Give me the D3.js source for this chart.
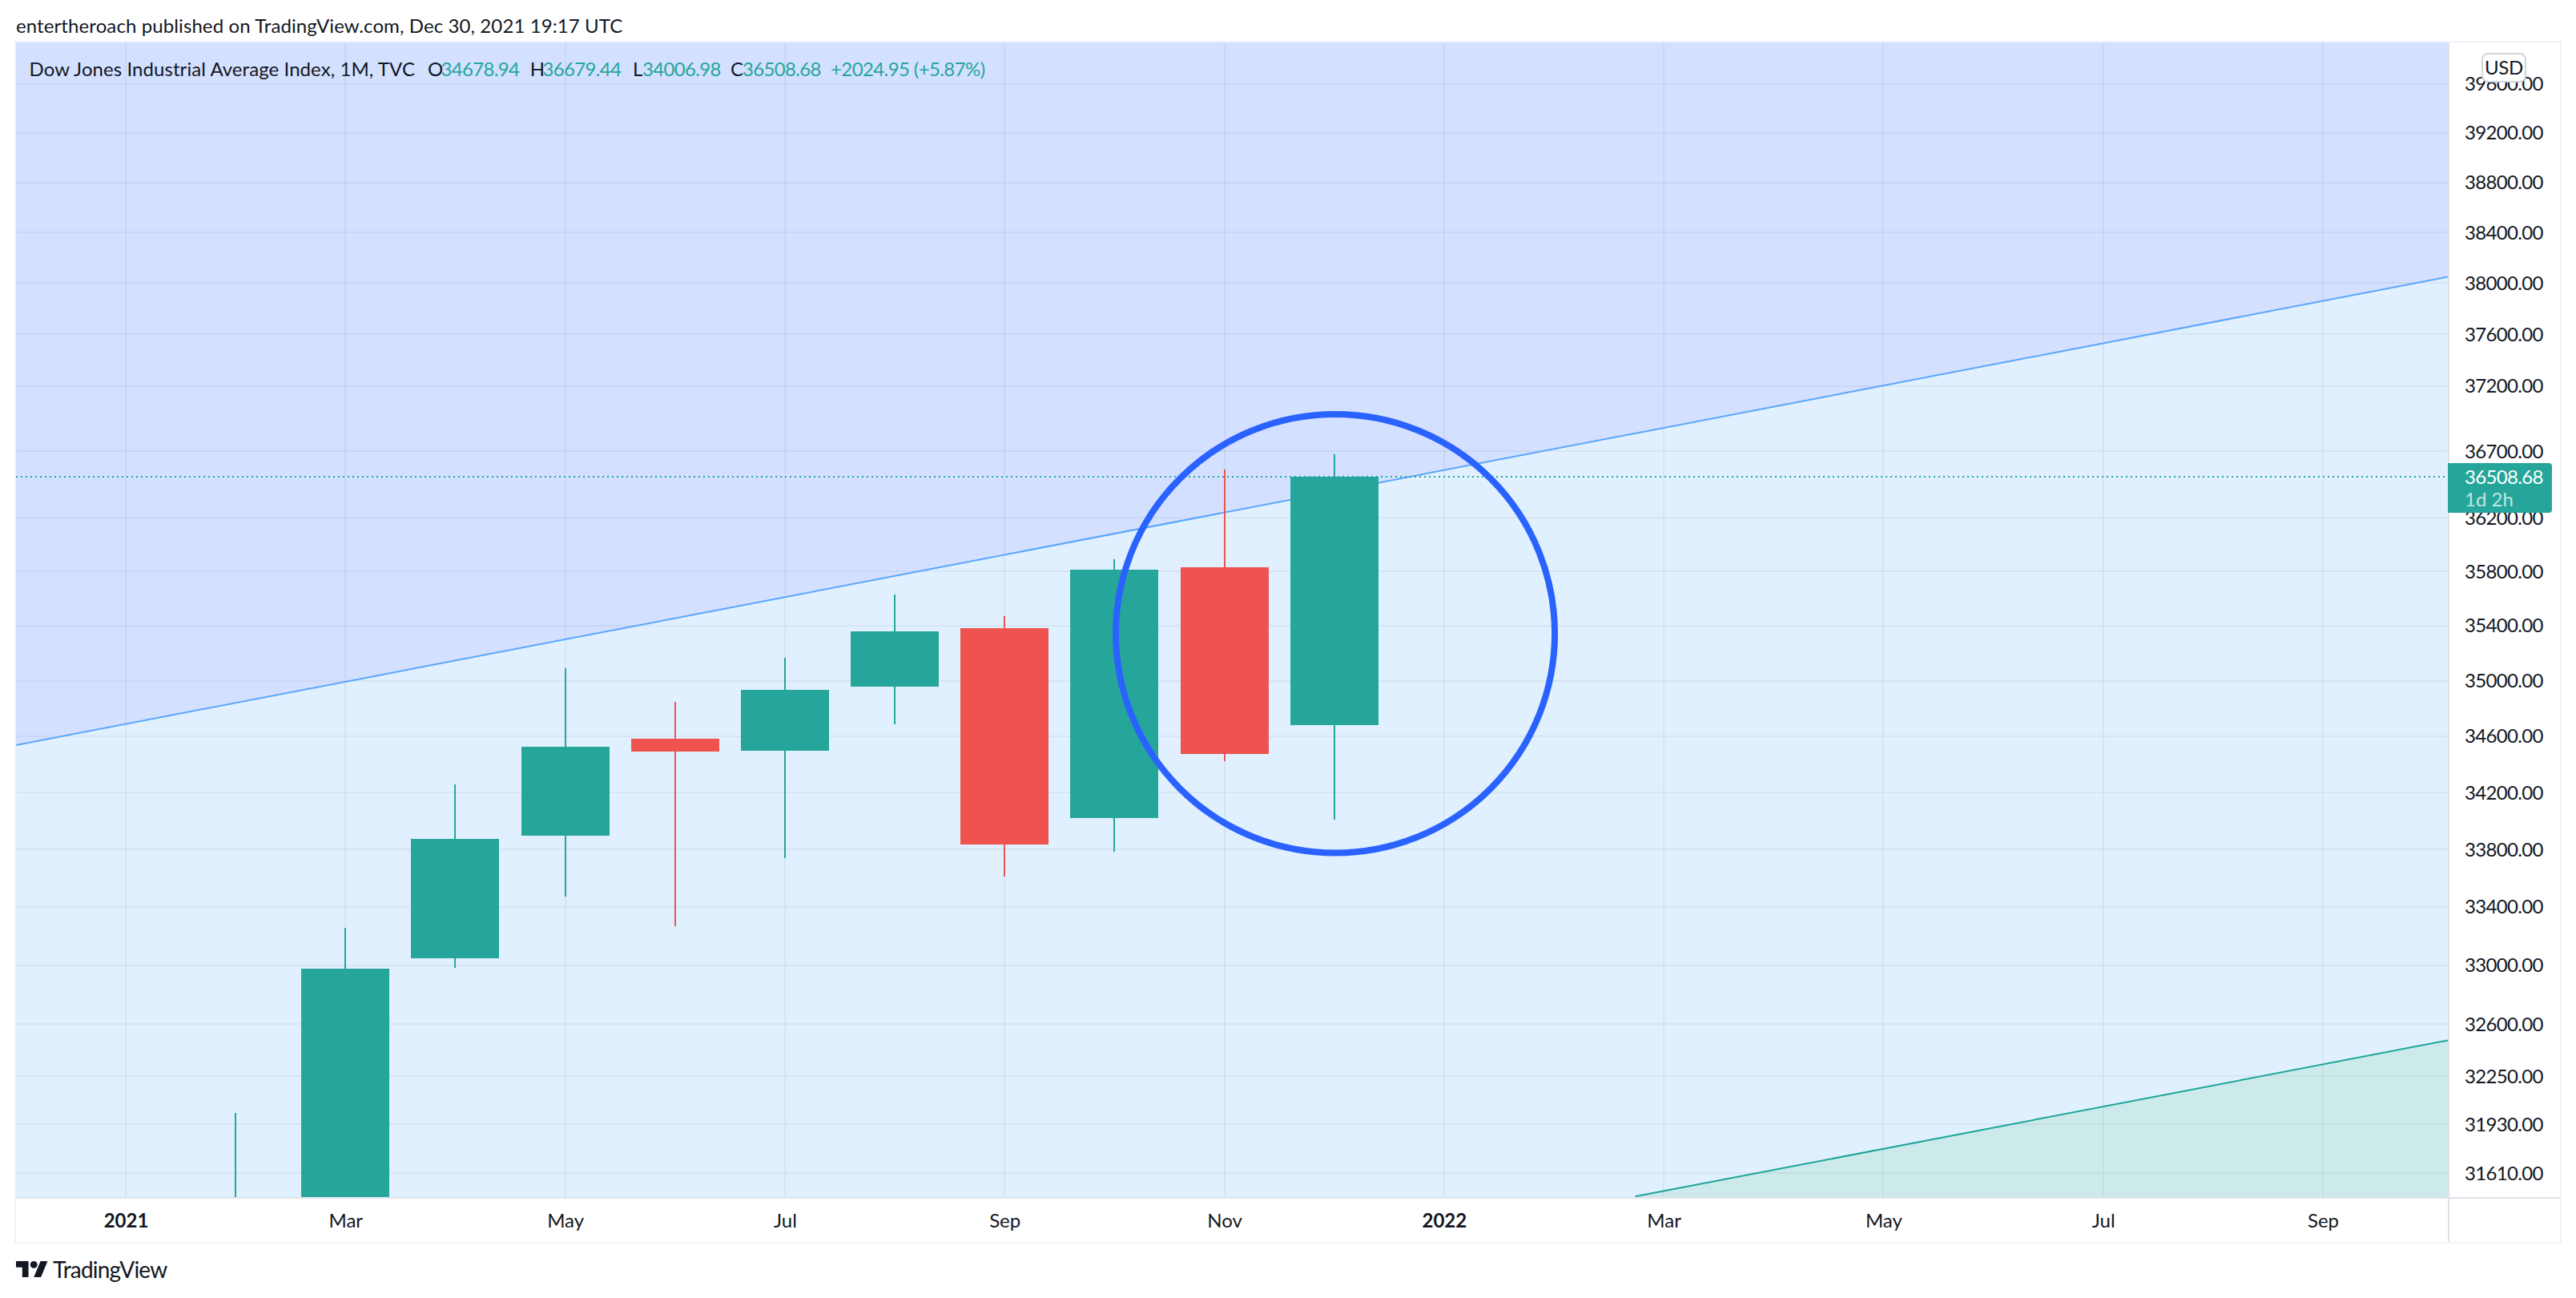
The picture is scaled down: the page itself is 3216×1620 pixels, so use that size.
<!DOCTYPE html>
<html><head><meta charset="utf-8">
<style>html,body{margin:0;padding:0;background:#fff}svg{display:block}text{font-family:Lato,"Noto Sans",sans-serif;fill:#131722}</style>
<script src="https://cdnjs.cloudflare.com/ajax/libs/d3/7.8.5/d3.min.js"></script>
</head><body><div id="c"></div>
<script>
// --- data ---
const months = ['Feb','Mar','Apr','May','Jun','Jul','Aug','Sep','Oct','Nov','Dec'];
const monthIndex = [1,2,3,4,5,6,7,8,9,10,11];
const opens  = [30054,31066,33048,33897,34583,34498,34958,35384,34021,35832,34678.94];
const highs  = [32008,33257,34259,35092,34848,35167,35631,35472,35892,36564,36679.44];
const lows   = [29856,30547,32983,33473,33268,33740,34687,33612,33785,34424,34006.98];
const closes = [30932,32977,33875,34526,34492,34935,35360,33835,35814,34475,36508.68];
const priceTicks = [39600,39200,38800,38400,38000,37600,37200,36700,36200,35800,35400,35000,34600,34200,33800,33400,33000,32600,32250,31930,31610];
const timeTickIndex = [0,2,4,6,8,10,12,14,16,18,20];
const timeTickLabels = ['2021','Mar','May','Jul','Sep','Nov','2022','Mar','May','Jul','Sep'];
const boldLabels = ['2021','2022'];
const upperLineIdx = [-1,21.14], upperLineVal = [34532,38045];
const lowerLineIdx = [13.74,21.14], lowerLineVal = [31454,32487];
const ringIdx = [9.012,13.008], ringVal = [33775,36983];
const lastClose = 36508.68;

// --- layout ---
const W=3216,H=1620,L=20,R=3056,T=53,B=1495,OUT=3196,OUTB=1550;
const GREEN='#26a69a',RED='#ef5350',INK='#131722';
const NUMSP='-0.68px';
const x=d3.scaleLinear().domain([0,20]).range([157,2900]);
const y=d3.scaleLog().domain([31610,39600]).range([1464.2,104.5]);
const yBot=y.invert(B),yTop=y.invert(T);
const ry=v=>Math.round(y(v));
const svg=d3.select('#c').append('svg').attr('width',W).attr('height',H);
svg.append('defs').append('clipPath').attr('id','plot').append('rect').attr('x',L).attr('y',T).attr('width',R-L).attr('height',B-T);
const plot=svg.append('g').attr('clip-path','url(#plot)');

// fills
const up=upperLineIdx.map((d,i)=>({i:d,v:upperLineVal[i]}));
const lo=lowerLineIdx.map((d,i)=>({i:d,v:lowerLineVal[i]}));
plot.append('rect').attr('x',L).attr('y',T).attr('width',R-L).attr('height',B-T).attr('fill','#e0f0fe');
const area=d3.area().x(d=>x(d.i)).y1(d=>y(d.v)-0.7);
plot.append('path').datum(up).attr('fill','#d3e0ff').attr('d',area.y0(y(yTop)));
plot.append('path').datum(lo).attr('fill','#cceae9').attr('d',area.y0(y(yBot)));

// grid
const GRID='rgba(42,46,57,0.05)';
plot.selectAll('.gh').data(priceTicks).join('rect').attr('x',L).attr('width',R-L).attr('y',d=>ry(d)-1).attr('height',2).attr('fill',GRID);
plot.selectAll('.gv').data(timeTickIndex).join('rect').attr('y',T).attr('height',B-T).attr('x',d=>Math.round(x(d))-1).attr('width',2).attr('fill',GRID);

// trend lines
const line=d3.line().x(d=>x(d.i)).y(d=>y(d.v)-0.7);
plot.append('path').datum(up).attr('fill','none').attr('stroke','#5aa6fb').attr('stroke-width',2).attr('d',line);
plot.append('path').datum(lo).attr('fill','none').attr('stroke','#1ea49c').attr('stroke-width',2).attr('d',line);

// last price line
plot.append('line').attr('x1',L).attr('x2',R).attr('y1',ry(lastClose)).attr('y2',ry(lastClose)).attr('stroke',GREEN).attr('stroke-width',2).attr('stroke-dasharray','2 4');

// candles
const rows=months.map((m,i)=>({m,i:monthIndex[i],o:opens[i],h:highs[i],l:lows[i],c:closes[i]}));
const col=d=>d.c>=d.o?GREEN:RED;
plot.selectAll('.w').data(rows).join('rect').attr('x',d=>Math.round(x(d.i))-1).attr('width',2).attr('y',d=>ry(d.h)).attr('height',d=>ry(d.l)-ry(d.h)).attr('fill',col);
plot.selectAll('.b').data(rows).join('rect').attr('x',d=>Math.round(x(d.i))-55).attr('width',110).attr('y',d=>ry(Math.max(d.o,d.c))).attr('height',d=>ry(Math.min(d.o,d.c))-ry(Math.max(d.o,d.c))).attr('fill',col);

// ring annotation
plot.append('ellipse').attr('cx',(x(ringIdx[0])+x(ringIdx[1]))/2).attr('cy',(y(ringVal[0])+y(ringVal[1]))/2)
  .attr('rx',(x(ringIdx[1])-x(ringIdx[0]))/2).attr('ry',(y(ringVal[0])-y(ringVal[1]))/2)
  .attr('fill','none').attr('stroke','#2962ff').attr('stroke-width',8);

// frame
const BORD='#f0f3fa',AX='#e0e3eb';
svg.append('rect').attr('x',L-2).attr('y',T-2).attr('width',OUT-L+4).attr('height',2).attr('fill',BORD);
svg.append('rect').attr('x',L-2).attr('y',T-2).attr('width',2).attr('height',OUTB-T+4).attr('fill',BORD);
svg.append('rect').attr('x',OUT).attr('y',T-2).attr('width',2).attr('height',OUTB-T+4).attr('fill',BORD);
svg.append('rect').attr('x',L-2).attr('y',OUTB).attr('width',OUT-L+4).attr('height',2).attr('fill',BORD);
svg.append('rect').attr('x',L).attr('y',B-1).attr('width',OUT-L).attr('height',2).attr('fill',AX);
svg.append('rect').attr('x',R).attr('y',T).attr('width',2).attr('height',OUTB-T).attr('fill',AX);

// axes
const FS=24;
const ya=svg.append('g').attr('transform','translate(3077,0.3)').call(d3.axisRight(y).tickValues(priceTicks).tickFormat(d3.format('.2f')).tickSize(0).tickPadding(0));
ya.select('.domain').remove();
ya.selectAll('text').attr('font-size',FS).attr('fill',INK).style('font-family','Lato').style('letter-spacing',NUMSP);
const xa=svg.append('g').attr('transform',`translate(0,${B})`).call(d3.axisBottom(x).tickValues(timeTickIndex).tickFormat((d,i)=>timeTickLabels[i]).tickSize(0).tickPadding(20));
xa.select('.domain').remove();
xa.selectAll('text').attr('font-size',FS).attr('fill',INK).style('font-family','Lato').attr('font-weight',(d,i)=>boldLabels.includes(timeTickLabels[i])?700:400);

// USD badge
svg.append('rect').attr('x',3099).attr('y',67).attr('width',54).attr('height',35).attr('rx',7).attr('fill','#fff').attr('stroke','#d1d4dc').attr('stroke-width',2);
svg.append('text').attr('x',3126).attr('y',85).attr('text-anchor','middle').attr('dy','.35em').attr('font-size',FS).style('letter-spacing','-0.3px').text('USD');

// last price tag
svg.append('path').attr('d','M3056 578H3182a4 4 0 0 1 4 4V636a4 4 0 0 1 -4 4H3056Z').attr('fill',GREEN);
svg.append('text').attr('x',3077).attr('y',596).attr('dy','.35em').attr('font-size',FS).style('fill','#fff').style('letter-spacing',NUMSP).text(d3.format('.2f')(lastClose));
svg.append('text').attr('x',3077).attr('y',624).attr('dy','.35em').attr('font-size',FS).style('fill','#bfe6e2').text('1d 2h');

// header
svg.append('text').attr('x',20).attr('y',33).attr('dy','.35em').attr('font-size',FS).style('letter-spacing','0.1px').text('entertheroach published on TradingView.com, Dec 30, 2021 19:17 UTC');
const legend=[['Dow Jones Industrial Average Index, 1M, TVC',36.5,INK,'0.07px'],['O',534,INK,'0'],['34678.94',550.6,GREEN,NUMSP],['H',661.7,INK,'0'],['36679.44',677.5,GREEN,NUMSP],['L',790,INK,'0'],['34006.98',802,GREEN,NUMSP],['C',912,INK,'0'],['36508.68',927,GREEN,NUMSP],['+2024.95 (+5.87%)',1037,GREEN,'-0.6px']];
svg.selectAll('.lg').data(legend).join('text').attr('x',d=>d[1]).attr('y',87).attr('dy','.35em').attr('font-size',FS).style('fill',d=>d[2]).style('letter-spacing',d=>d[3]).text(d=>d[0]);

// footer logo
svg.append('g').attr('transform','translate(20,1569.5) scale(1.111)').attr('fill',INK).call(g=>{
  g.append('path').attr('d','M14 22H7V11H0V4h14v18zM28 22h-8l7.5-18h8L28 22z');
  g.append('circle').attr('cx',20).attr('cy',8).attr('r',4);
});
svg.append('text').attr('x',66).attr('y',1585).attr('dy','.35em').attr('font-size',28).style('letter-spacing','-0.8px').text('TradingView');
</script></body></html>
